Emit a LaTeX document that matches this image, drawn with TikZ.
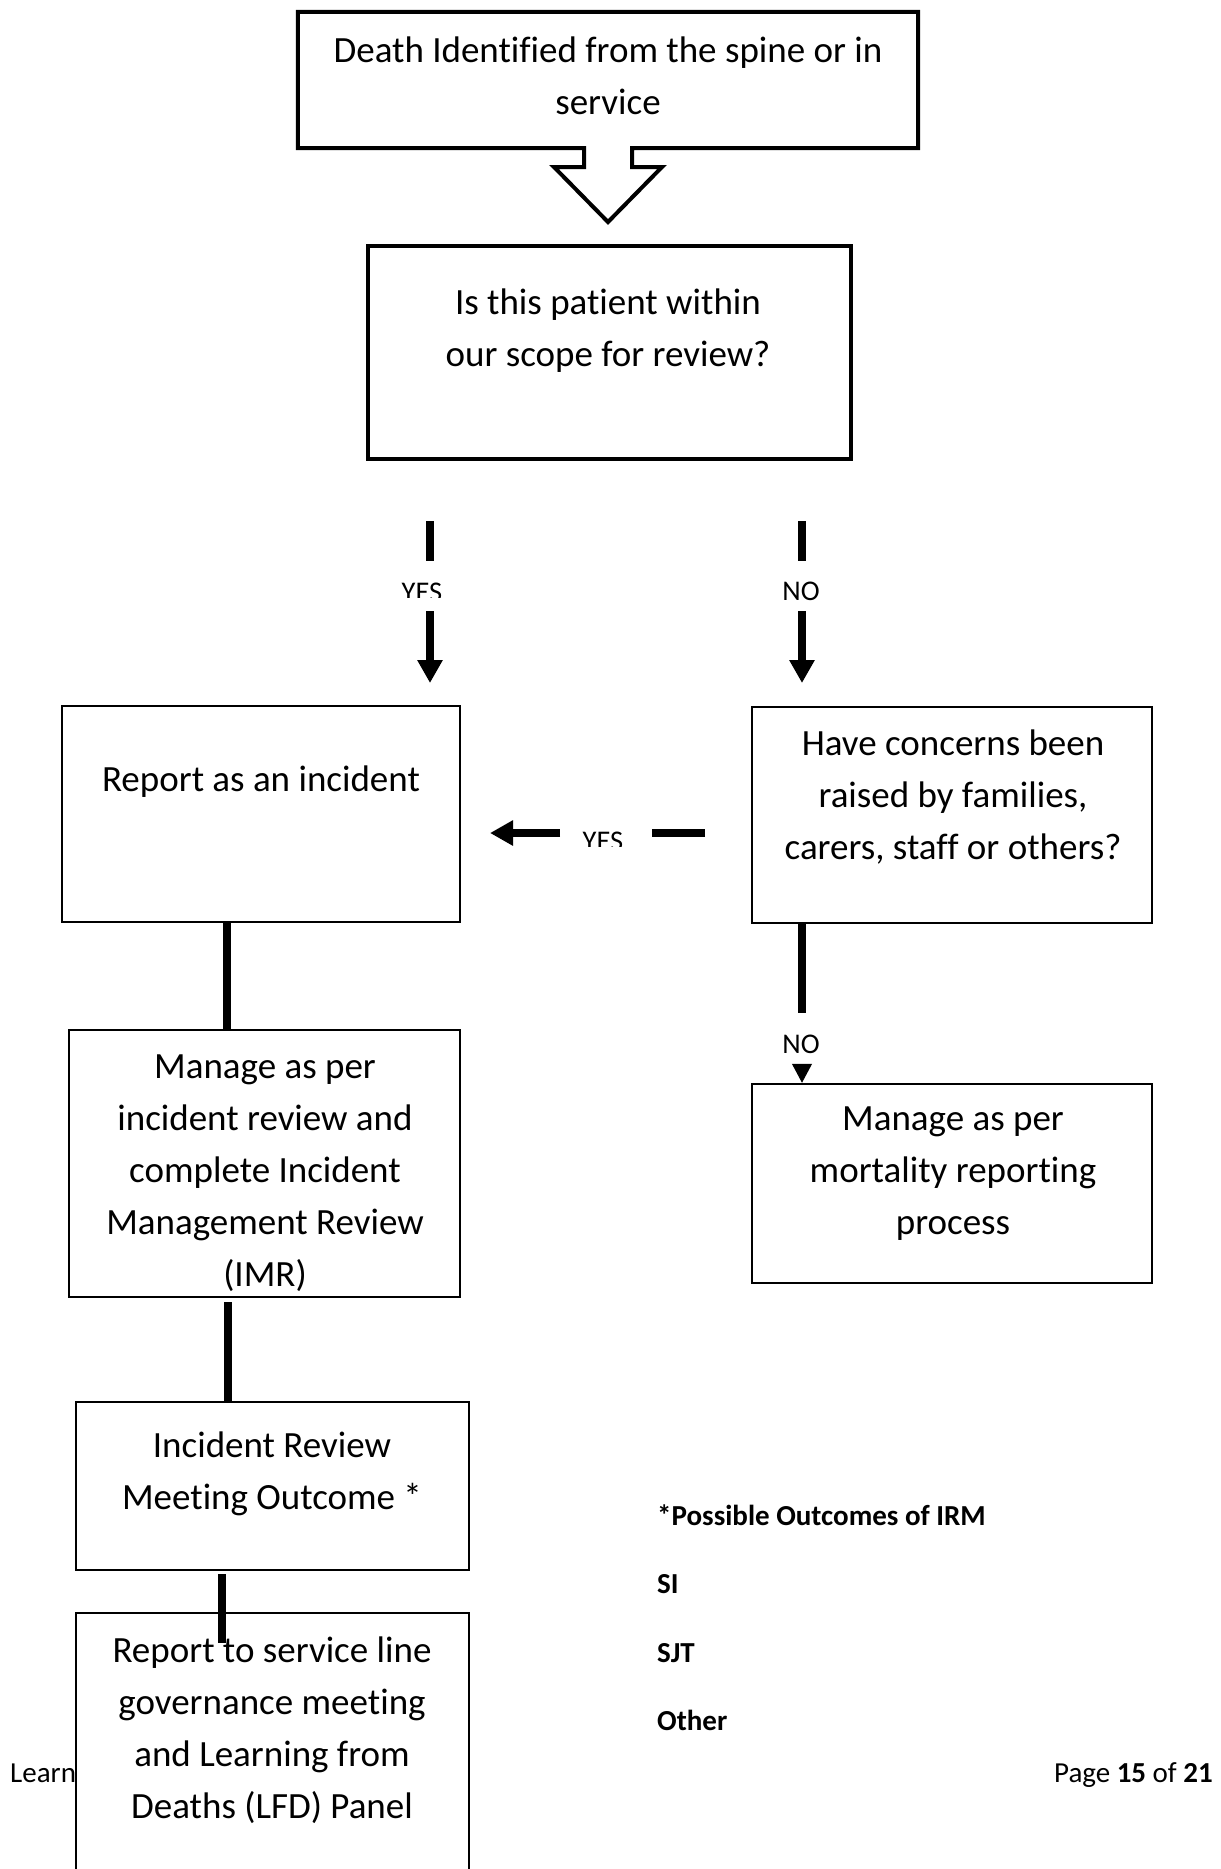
\documentclass[tikz,border=0pt]{standalone}
\usepackage{fontspec}
\setmainfont{Carlito}[Ligatures=CommonOff]
\usetikzlibrary{arrows.meta}
\begin{document}
\begin{tikzpicture}[x=1pt,y=-1pt,
  box/.style={draw, line width=2.5pt, inner sep=0pt},
  thickbox/.style={draw, line width=4pt, inner sep=0pt},
  txt/.style={align=center, inner sep=0pt, font=\fontsize{37}{52}\selectfont},
  lbl/.style={inner sep=0pt, anchor=base, font=\fontsize{28.5}{33}\selectfont},
  conn/.style={line width=8pt},
  arr/.style={line width=8pt, -{Triangle[length=23pt,width=24pt]}},
  smallarr/.style={line width=1pt, -{Triangle[length=19pt,width=20pt]}},
  legend/.style={inner sep=0pt, anchor=base west, font=\bfseries\fontsize{29}{34}\selectfont},
  foot/.style={inner sep=0pt, font=\fontsize{29}{34}\selectfont},
]
\useasboundingbox (0,0) rectangle (1221,1869);
\fill[white] (0,0) rectangle (1221,1869);

% top callout box with block arrow
\node[minimum width=620pt, minimum height=136pt, inner sep=0pt] (start) at (608,80) {};
\draw[line width=4pt, line join=miter] (start.north west) -- (start.north east) -- (start.south east)
  -- (632,148) -- (632,167) -- (662,167) -- (608,222) -- (554,167) -- (584,167) -- (584,148)
  -- (start.south west) -- cycle;
\node[txt] (starttxt) at (608,76) {Death Identified from the spine or in\\service};

% question box
\node[thickbox, minimum width=483pt, minimum height=213pt] (q) at (609.5,352.5) {};
\node[txt] (qtxt) at (608,331) {Is this patient within\\our scope for review?};

% YES (down-left)
\coordinate (ya) at (430,521); \coordinate (yb) at (430,561);
\coordinate (yc) at (430,611); \coordinate (yd) at (430,683);
\draw[conn] (ya) -- (yb);
\draw[arr] (yc) -- (yd);
\begin{scope}
  \clip (370,570) rectangle (480,597);
  \node[lbl] (yes1) at (422,601) {YES};
\end{scope}

% NO (down-right)
\coordinate (na) at (802,521); \coordinate (nb) at (802,561);
\coordinate (nc) at (802,611); \coordinate (nd) at (802,683);
\draw[conn] (na) -- (nb);
\draw[arr] (nc) -- (nd);
\node[lbl] (no1) at (801,600) {NO};

% boxes middle row
\node[box, minimum width=398pt, minimum height=216pt] (rep) at (261,814) {};
\node[txt] (reptxt) at (261,782) {Report as an incident};
\node[box, minimum width=400pt, minimum height=216pt] (have) at (952,815) {};
\node[txt] (havetxt) at (953,797) {Have concerns been\\raised by families,\\carers, staff or others?};

% horizontal YES
\coordinate (ha) at (705,833); \coordinate (hb) at (652,833);
\coordinate (hc) at (560,833); \coordinate (hd) at (490,833);
\draw[conn] (ha) -- (hb);
\draw[arr] (hc) -- (hd);
\begin{scope}
  \clip (560,815) rectangle (650,846);
  \node[lbl] (yes2) at (603,850) {YES};
\end{scope}

% manage (left)
\node[box, minimum width=391pt, minimum height=267pt] (mgl) at (264.5,1163.5) {};
\begin{scope}
  \clip ([xshift=1.25pt,yshift=-1.25pt]mgl.north west) rectangle ([xshift=-1.25pt,yshift=1.25pt]mgl.south east);
  \node[txt] (mgltxt) at (265,1173) {Manage as per\\incident review and\\complete Incident\\Management Review\\(IMR)};
\end{scope}
\coordinate (x1) at (227,0);
\draw[conn] (x1 |- rep.south) -- (x1 |- mgl.north);

% NO to mortality
\coordinate (x2) at (802,0);
\coordinate (n2) at (802,1013);
\draw[conn] (x2 |- have.south) -- (n2);
\node[lbl] (no2) at (801,1053) {NO};
\node[box, minimum width=400pt, minimum height=199pt] (mort) at (952,1183.5) {};
\node[txt] (morttxt) at (953,1174) {Manage as per\\mortality reporting\\process};
\coordinate (n3) at (802,1064);
\draw[smallarr] (n3) -- (x2 |- mort.north);

% incident review meeting
\node[box, minimum width=393pt, minimum height=168pt] (irm) at (272.5,1486) {};
\node[txt] (irmtxt) at (272,1474) {Incident Review\\Meeting Outcome *};
\coordinate (i1) at (228,1302);
\draw[conn] (i1) -- (i1 |- irm.north);

% footer
\node[foot, anchor=base west] (learn) at (10,1782) {Learn};
\node[foot, anchor=base east] (page) at (1213,1782) {Page \textbf{15} of \textbf{21}};

% report to governance
\node[box, fill=white, minimum width=393pt, minimum height=267pt] (rep2) at (272.5,1746.5) {};
\node[txt] (rep2txt) at (272,1730) {Report to service line\\governance meeting\\and Learning from\\Deaths (LFD) Panel};
\coordinate (r1) at (222,1574); \coordinate (r2) at (222,1643);
\draw[conn] (r1) -- (r2);

% legend
\node[legend] (lg1) at (657,1525) {*Possible Outcomes of IRM};
\node[legend] (lg2) at (657,1593) {SI};
\node[legend] (lg3) at (657,1662) {SJT};
\node[legend] (lg4) at (657,1730) {Other};
\end{tikzpicture}
\end{document}
